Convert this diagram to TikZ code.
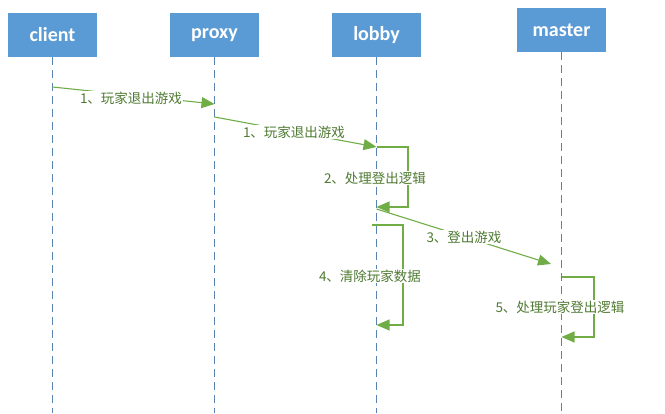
\documentclass[tikz,border=0pt]{standalone}
\usepackage{fontspec}
\setmainfont{Carlito}
\newfontfamily\cjk{Noto Sans CJK SC}
\usetikzlibrary{arrows.meta}
\definecolor{boxblue}{HTML}{5B9BD5}
\definecolor{lifeblue}{HTML}{5A82AE}
\definecolor{msggreen}{HTML}{70AD47}
\definecolor{txtgreen}{HTML}{4F7A32}
\tikzset{
  actor/.style={fill=boxblue, draw=none, minimum width=89pt, minimum height=44pt,
    text=white, font=\fontsize{20}{22}\selectfont\bfseries, inner sep=0pt},
  lifeline/.style={draw=lifeblue, line width=0.9pt, dash pattern=on 8pt off 5pt},
  msg/.style={draw=msggreen, line width=1.1pt, -{Triangle[length=13pt,width=11pt]}},
  msglabel/.style={fill=white, text=txtgreen, inner sep=1pt,
    font=\cjk\fontsize{13.5}{15}\selectfont}
}
\begin{document}
\begin{tikzpicture}[x=1pt,y=-1pt]
\useasboundingbox (0,0) rectangle (665,413);
% actors
\node[actor] (client) at (52.5,35) {client};
\node[actor] (proxy) at (214.5,35) {proxy};
\node[actor] (lobby) at (376.5,35) {lobby};
\node[actor] (master) at (561.5,30) {master};
% lifeline ends
\coordinate (clientEnd) at (client.south |- 0,413);
\coordinate (proxyEnd) at (proxy.south |- 0,413);
\coordinate (lobbyEnd) at (lobby.south |- 0,413);
\coordinate (masterEnd) at (master.south |- 0,413);
\draw[lifeline] (client.south) -- (clientEnd);
\draw[lifeline] (proxy.south) -- (proxyEnd);
\draw[lifeline] (lobby.south) -- (lobbyEnd);
\draw[lifeline] (master.south) -- (masterEnd);
% message points
\coordinate (m1s) at (client.south |- 0,87);
\coordinate (m1e) at (proxy.south |- 0,104);
\coordinate (m2s) at (proxy.south |- 0,117);
\coordinate (m2e) at (lobby.south |- 0,147);
\coordinate (l2a) at (408,147);
\coordinate (l2b) at (408,207);
\coordinate (l2e) at (lobby.south |- 0,207);
\coordinate (m3s) at (lobby.south |- 0,209);
\coordinate (m3e) at (551,264);
\coordinate (l4s) at (372,225);
\coordinate (l4a) at (403,225);
\coordinate (l4b) at (403,325);
\coordinate (l4e) at (lobby.south |- 0,325);
\coordinate (l5s) at (master.south |- 0,277);
\coordinate (l5a) at (594,277);
\coordinate (l5b) at (594,337);
\coordinate (l5e) at (master.south |- 0,337);
% messages
\draw[msg] (m1s) -- (m1e);
\node[msglabel] (t1) at (131,98) {1、玩家退出游戏};
\draw[msg] (m2s) -- (m2e);
\node[msglabel] (t2) at (294,132) {1、玩家退出游戏};
\draw[msg] (m2e) -- (l2a) -- (l2b) -- (l2e);
\node[msglabel] (t3) at (375,178) {2、处理登出逻辑};
\draw[msg] (m3s) -- (m3e);
\node[msglabel] (t4) at (464,237) {3、登出游戏};
\draw[msg] (l4s) -- (l4a) -- (l4b) -- (l4e);
\node[msglabel] (t5) at (370,276) {4、清除玩家数据};
\draw[msg] (l5s) -- (l5a) -- (l5b) -- (l5e);
\node[msglabel] (t6) at (560,307) {5、处理玩家登出逻辑};
\end{tikzpicture}
\end{document}
